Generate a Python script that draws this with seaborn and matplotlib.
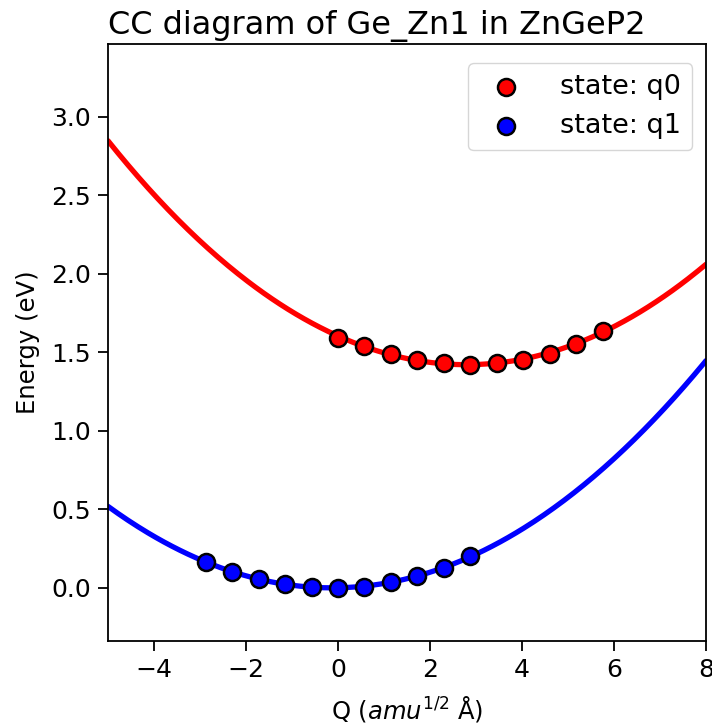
import numpy as np
import pandas as pd
import matplotlib
matplotlib.use("Agg")
import matplotlib.pyplot as plt
import seaborn as sns

# Configuration coordinates (amu^1/2 Å) and energies (eV) of the two charge states
q0_Q = [0.0, 0.575, 1.15, 1.725, 2.30, 2.875, 3.45, 4.025, 4.60, 5.175, 5.75]
q0_E = [1.594, 1.541, 1.490, 1.452, 1.431, 1.420, 1.431, 1.448, 1.492, 1.556, 1.635]

q1_Q = [-2.875, -2.30, -1.725, -1.15, -0.575, 0.0, 0.575, 1.15, 1.725, 2.30, 2.875]
q1_E = [0.162, 0.102, 0.055, 0.024, 0.005, 0.0, 0.007, 0.034, 0.072, 0.128, 0.199]

states = ["state: q0", "state: q1"]
colors = ["red", "blue"]

sns.set_style("ticks")
plt.rcParams.update({
    "font.family": ["DejaVu Sans"],
    "mathtext.fontset": "dejavusans",
    "text.color": "black",
    "axes.labelcolor": "black",
    "axes.edgecolor": "black",
    "xtick.color": "black",
    "ytick.color": "black",
    "font.size": 18,
})

fig = plt.figure(figsize=(7.12, 7.27), dpi=100)
ax = fig.add_axes([0.1517, 0.1183, 0.8399, 0.8212])

# harmonic fit of each potential energy surface, drawn over the full Q range
q_grid = np.linspace(-5, 8, 300)
for Q, E, color in zip([q0_Q, q1_Q], [q0_E, q1_E], colors):
    coeffs = np.polyfit(Q, E, 2)
    fit = pd.DataFrame({"Q": q_grid, "E": np.polyval(coeffs, q_grid)})
    sns.lineplot(data=fit, x="Q", y="E", color=color, linewidth=3.8, ax=ax,
                 legend=False, zorder=2)

for Q, E, label, color in zip([q0_Q, q1_Q], [q0_E, q1_E], states, colors):
    pts = pd.DataFrame({"Q": Q, "E": E})
    sns.scatterplot(data=pts, x="Q", y="E", color=color, s=150, edgecolor="black",
                    linewidth=1.8, ax=ax, label=label, zorder=3)

ax.set_xlim(-5, 8)
ax.set_ylim(-0.34, 3.465)
ax.set_xticks([-4, -2, 0, 2, 4, 6, 8])
ax.set_yticks([0.0, 0.5, 1.0, 1.5, 2.0, 2.5, 3.0])
ax.tick_params(labelsize=18, length=7, width=1.3, direction="out", pad=5)
for sp in ax.spines.values():
    sp.set_linewidth(1.3)
    sp.set_visible(True)

ax.set_xlabel(r"Q ($amu^{1/2}$ Å)", fontsize=17.5, labelpad=9)
ax.set_ylabel("Energy (eV)", fontsize=17.5, labelpad=8)
ax.set_title("CC diagram of Ge_Zn1 in ZnGeP2", fontsize=23, loc="left", pad=7)

leg = ax.legend(loc="upper right", bbox_to_anchor=(0.977, 0.968), borderaxespad=0,
                fontsize=19.5, frameon=True, handletextpad=1.0)
leg.get_frame().set_edgecolor("#cccccc")

fig.savefig("out.png", dpi=100)
